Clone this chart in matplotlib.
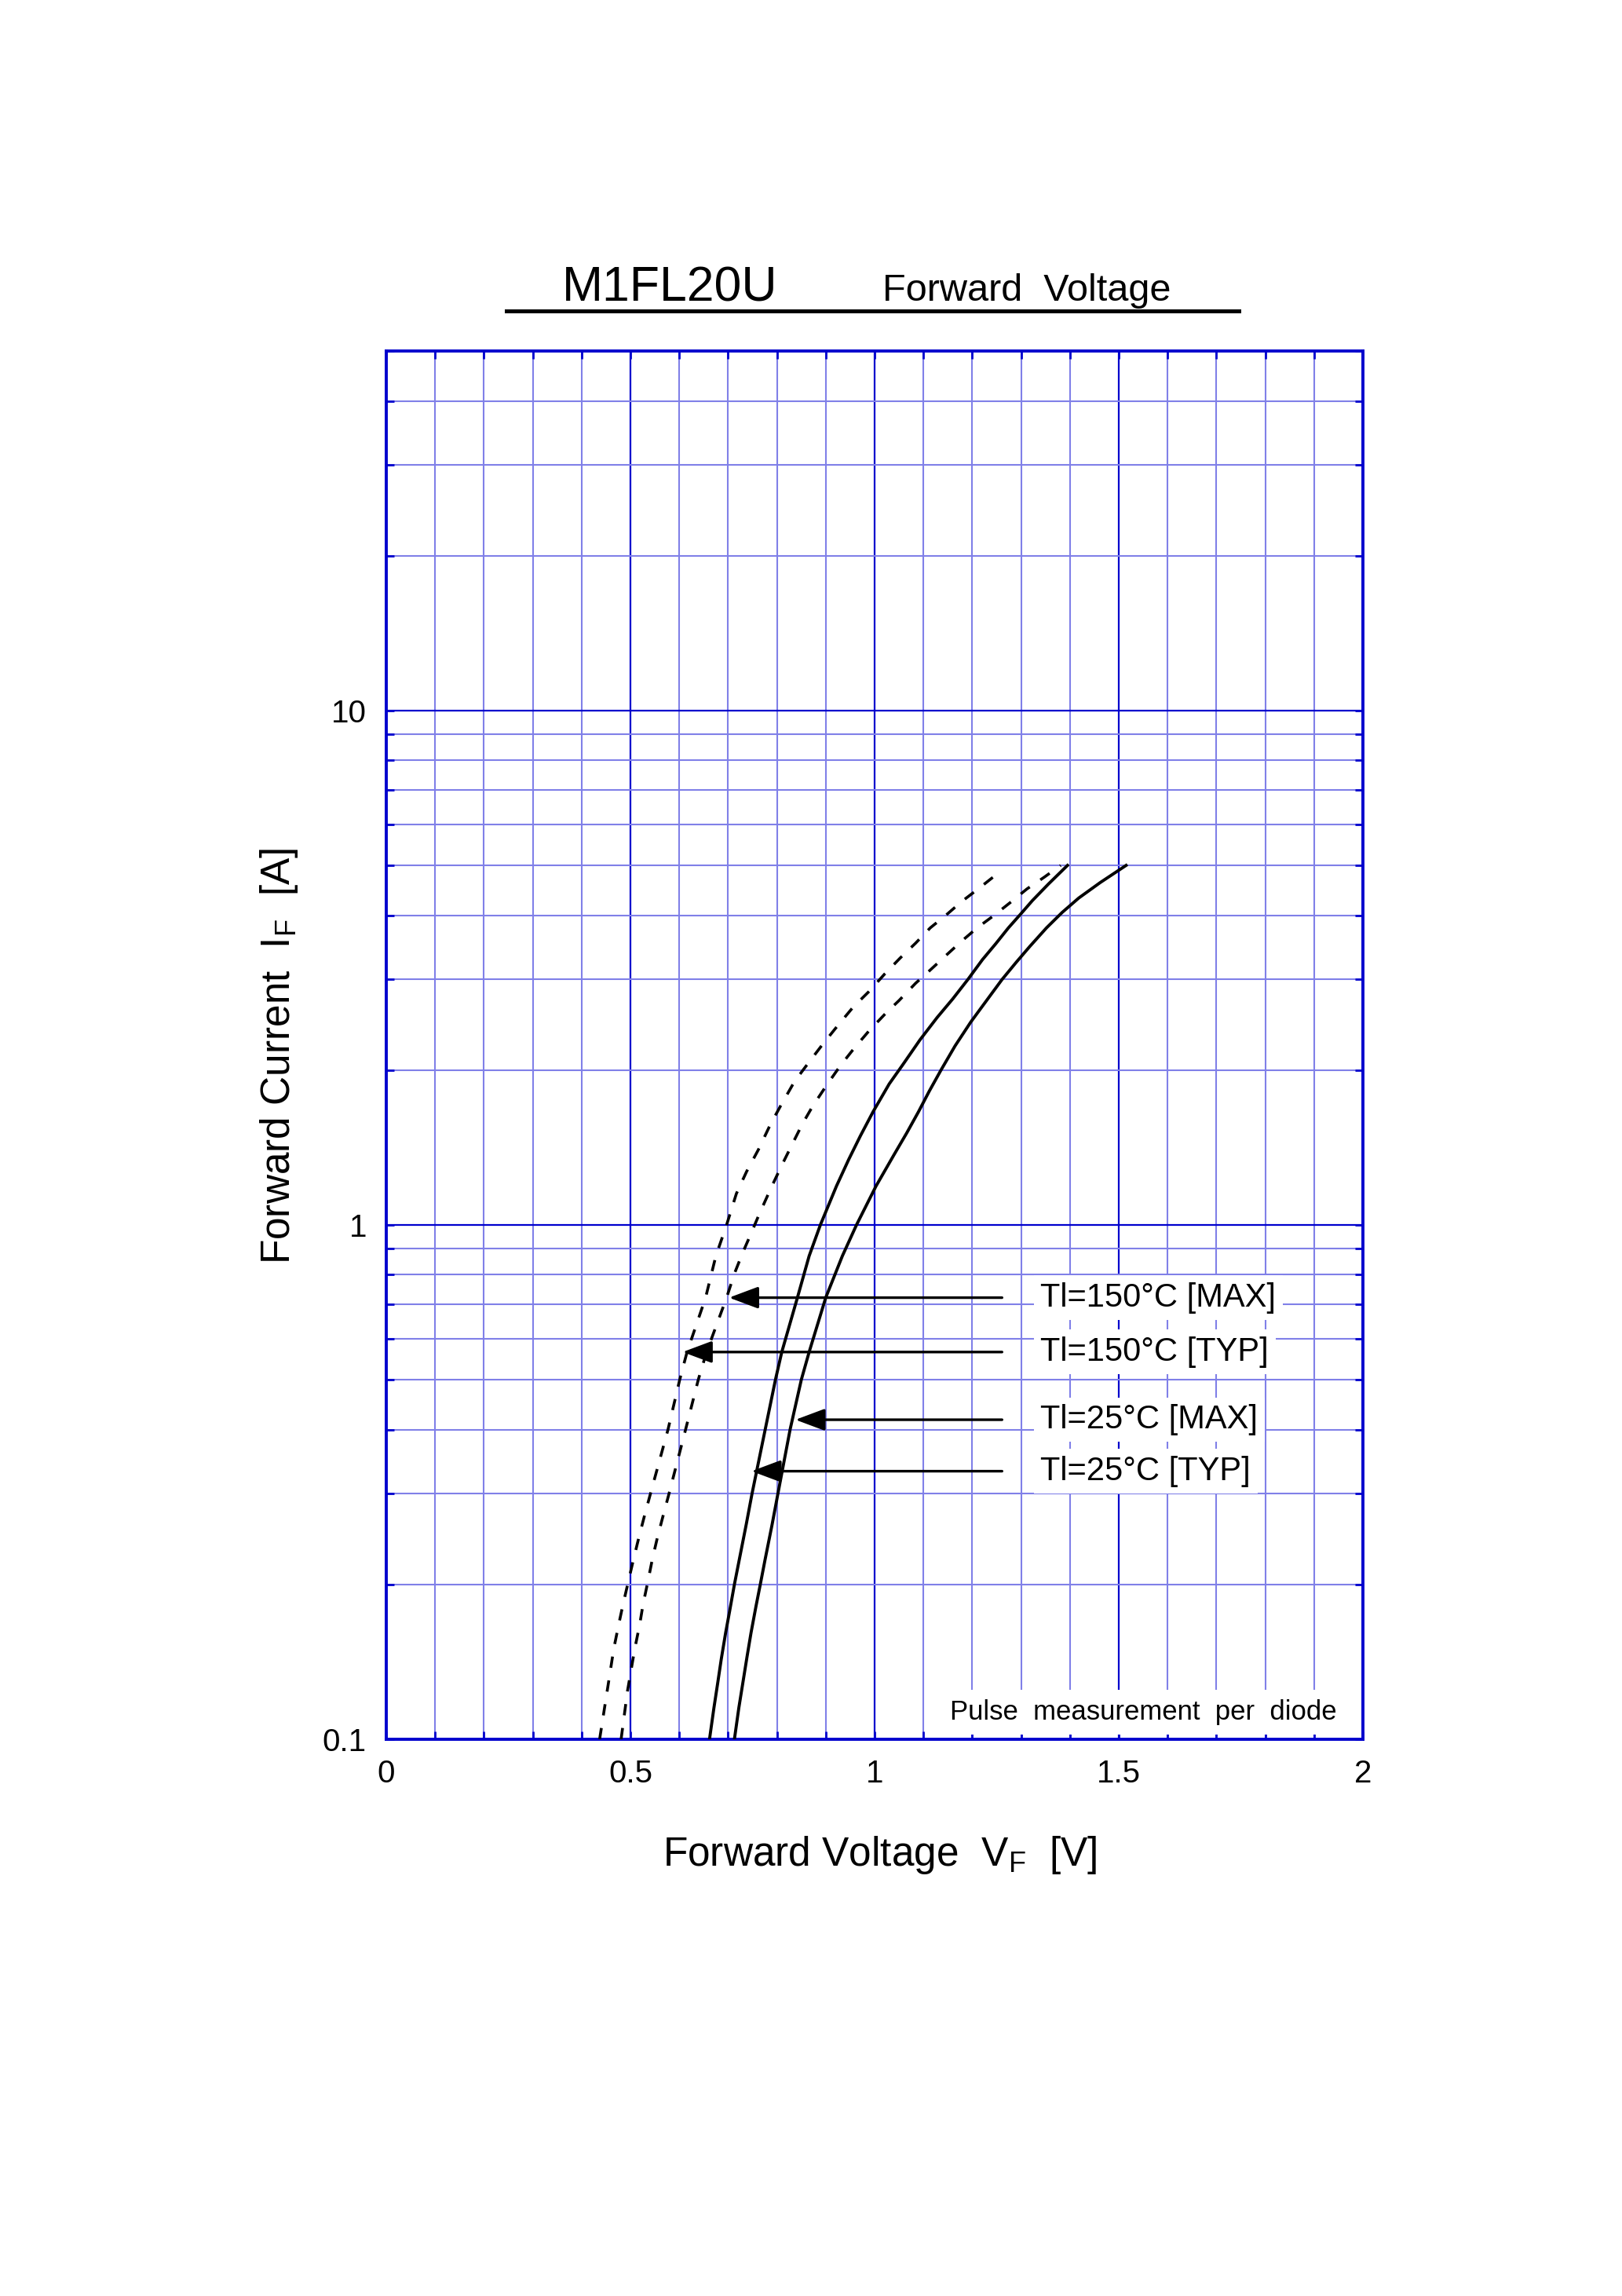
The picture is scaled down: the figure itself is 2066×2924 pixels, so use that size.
import numpy as np
import matplotlib.pyplot as plt
from matplotlib.ticker import MultipleLocator, LogLocator, NullFormatter, FixedLocator

plt.rcParams['font.family'] = ['Liberation Sans', 'DejaVu Sans']
plt.rcParams['mathtext.fontset'] = 'custom'
plt.rcParams['mathtext.rm'] = 'Liberation Sans'
plt.rcParams['mathtext.it'] = 'Liberation Sans:italic'

DARK = '#0000CD'
LIGHT = '#8080E8'

# Tl=150C [TYP]  (dashed, left)
i_150_typ = [0.1, 0.125, 0.15, 0.167, 0.183, 0.203, 0.223, 0.246, 0.27, 0.3, 0.4, 0.5, 0.566,
             0.722, 0.87, 1.0, 1.15, 1.27, 1.4, 1.57, 1.7, 1.9, 2.05, 2.24, 2.45, 2.65, 2.84,
             3.07, 3.3, 3.53, 3.78, 4.0, 4.25, 4.53, 4.83]
v_150_typ = [0.437, 0.453, 0.466, 0.476, 0.485, 0.496, 0.506, 0.517, 0.528, 0.541, 0.577, 0.601, 0.616,
             0.654, 0.675, 0.697, 0.717, 0.738, 0.762, 0.787, 0.807, 0.836, 0.862, 0.893, 0.926, 0.956, 0.988,
             1.020, 1.052, 1.084, 1.114, 1.146, 1.178, 1.216, 1.253]

# Tl=150C [MAX]  (dashed, right)
i_150_max = [0.1, 0.124, 0.15, 0.167, 0.183, 0.203, 0.224, 0.246, 0.272, 0.3, 0.4, 0.5, 0.566,
             0.722, 0.804, 0.883, 0.957, 1.05, 1.18, 1.3, 1.42, 1.57, 1.7, 1.87, 2.04, 2.21,
             2.38, 2.58, 2.73, 2.95, 3.13, 3.36, 3.56, 3.78, 4.0, 4.25, 4.5, 4.74, 5.0]
v_150_max = [0.481, 0.494, 0.509, 0.519, 0.526, 0.536, 0.545, 0.555, 0.567, 0.579, 0.613, 0.639, 0.656,
             0.697, 0.713, 0.730, 0.746, 0.764, 0.788, 0.809, 0.829, 0.852, 0.873, 0.902, 0.930, 0.959,
             0.988, 1.023, 1.050, 1.084, 1.114, 1.149, 1.178, 1.210, 1.245, 1.280, 1.312, 1.347, 1.381]

# Tl=25C [TYP]  (solid, left)
i_25_typ = [0.1, 0.115, 0.129, 0.143, 0.161, 0.177, 0.2, 0.226, 0.261, 0.3, 0.4, 0.5, 0.566,
            0.722, 0.87, 1.0, 1.19, 1.34, 1.49, 1.66, 1.88, 2.05, 2.29, 2.53, 2.75, 3.0,
            3.28, 3.52, 3.78, 4.02, 4.27, 4.6, 5.0]
v_25_typ = [0.662, 0.671, 0.679, 0.686, 0.695, 0.703, 0.713, 0.724, 0.737, 0.749, 0.776, 0.797, 0.810,
            0.842, 0.866, 0.889, 0.922, 0.947, 0.971, 0.997, 1.030, 1.058, 1.093, 1.128, 1.160, 1.191,
            1.221, 1.248, 1.274, 1.299, 1.323, 1.356, 1.395]

# Tl=25C [MAX]  (solid, right)
i_25_max = [0.1, 0.115, 0.13, 0.145, 0.161, 0.181, 0.2, 0.224, 0.261, 0.3, 0.4, 0.5, 0.566,
            0.722, 0.87, 1.0, 1.19, 1.37, 1.51, 1.66, 1.82, 2.0, 2.23, 2.48, 2.72, 3.0,
            3.24, 3.48, 3.78, 4.05, 4.32, 4.63, 5.0]
v_25_max = [0.713, 0.722, 0.731, 0.739, 0.747, 0.757, 0.766, 0.776, 0.790, 0.802, 0.827, 0.850, 0.866,
            0.900, 0.934, 0.963, 1.003, 1.040, 1.066, 1.090, 1.112, 1.136, 1.165, 1.197, 1.228, 1.261,
            1.290, 1.318, 1.352, 1.384, 1.418, 1.462, 1.515]

curve_labels = ['Tl=150°C [MAX]', 'Tl=150°C [TYP]', 'Tl=25°C [MAX]', 'Tl=25°C [TYP]']
arrow_i = [0.722, 0.566, 0.418, 0.332]
arrow_tip_v = [0.702, 0.607, 0.838, 0.748]
arrow_tail_v = 1.261
label_v = 1.34

x_ticks = [0, 0.5, 1, 1.5, 2]
x_ticklabels = ['0', '0.5', '1', '1.5', '2']
y_ticks = [0.1, 1, 10]
y_ticklabels = ['0.1', '1', '10']

fig = plt.figure(figsize=(10.33, 14.62), dpi=200)
ax = fig.add_axes([0.2381, 0.2425, 0.6022, 0.6046])

ax.set_yscale('log')
ax.set_xlim(0, 2)
ax.set_ylim(0.1, 50)

ax.xaxis.set_major_locator(FixedLocator(x_ticks))
ax.xaxis.set_minor_locator(MultipleLocator(0.1))
ax.set_xticklabels(x_ticklabels)
ax.yaxis.set_major_locator(FixedLocator(y_ticks))
ax.yaxis.set_minor_locator(LogLocator(base=10, subs=np.arange(2, 10)))
ax.yaxis.set_minor_formatter(NullFormatter())
ax.set_yticklabels(y_ticklabels)

ax.grid(which='minor', color=LIGHT, lw=0.75, zorder=0)
ax.grid(which='major', color=DARK, lw=0.8, zorder=0)
ax.set_axisbelow(True)
for s in ax.spines.values():
    s.set_color(DARK)
    s.set_linewidth(1.4)
ax.tick_params(which='both', direction='in', color=DARK, top=True, right=True,
               length=3.6, width=1.0, labelsize=14.5, pad=9)

dash = (4, 4.5)
ax.plot(v_150_typ, i_150_typ, color='k', lw=1.3, dashes=dash, zorder=3)
ax.plot(v_150_max, i_150_max, color='k', lw=1.3, dashes=dash, zorder=3)
ax.plot(v_25_typ, i_25_typ, color='k', lw=1.4, zorder=3)
ax.plot(v_25_max, i_25_max, color='k', lw=1.4, zorder=3)

for lab, yi, xv in zip(curve_labels, arrow_i, arrow_tip_v):
    ax.annotate('', xy=(xv, yi), xytext=(arrow_tail_v, yi),
                arrowprops=dict(arrowstyle='-|>,head_length=1.15,head_width=0.43',
                                color='k', lw=1.2, shrinkA=0, shrinkB=0), zorder=4)
    ax.text(label_v, yi, lab, fontsize=15, va='center', ha='left', zorder=5,
            bbox=dict(boxstyle='square,pad=0.2', facecolor='white', edgecolor='none'))

ax.text(1.551, 0.113, 'Pulse  measurement  per  diode', fontsize=12.5, ha='center', va='center',
        zorder=5, bbox=dict(boxstyle='square,pad=0.35', facecolor='white', edgecolor='none'))

# title
fig.text(0.413, 0.869, 'M1FL20U', fontsize=22.5, ha='center', va='baseline')
fig.text(0.633, 0.869, 'Forward  Voltage', fontsize=17.5, ha='center', va='baseline')
fig.add_artist(plt.Line2D([0.312, 0.764], [0.8646, 0.8646], color='k', lw=1.8,
                          transform=fig.transFigure))

fig.text(0.5426, 0.192, r'Forward Voltage  V$_{\mathrm{F}}$  [V]', fontsize=18.5,
         ha='center', va='center')
fig.text(0.172, 0.54, r'Forward Current  I$_{\mathrm{F}}$  [A]', fontsize=18.5,
         ha='center', va='center', rotation=90)

fig.savefig('out.png', dpi=200)
